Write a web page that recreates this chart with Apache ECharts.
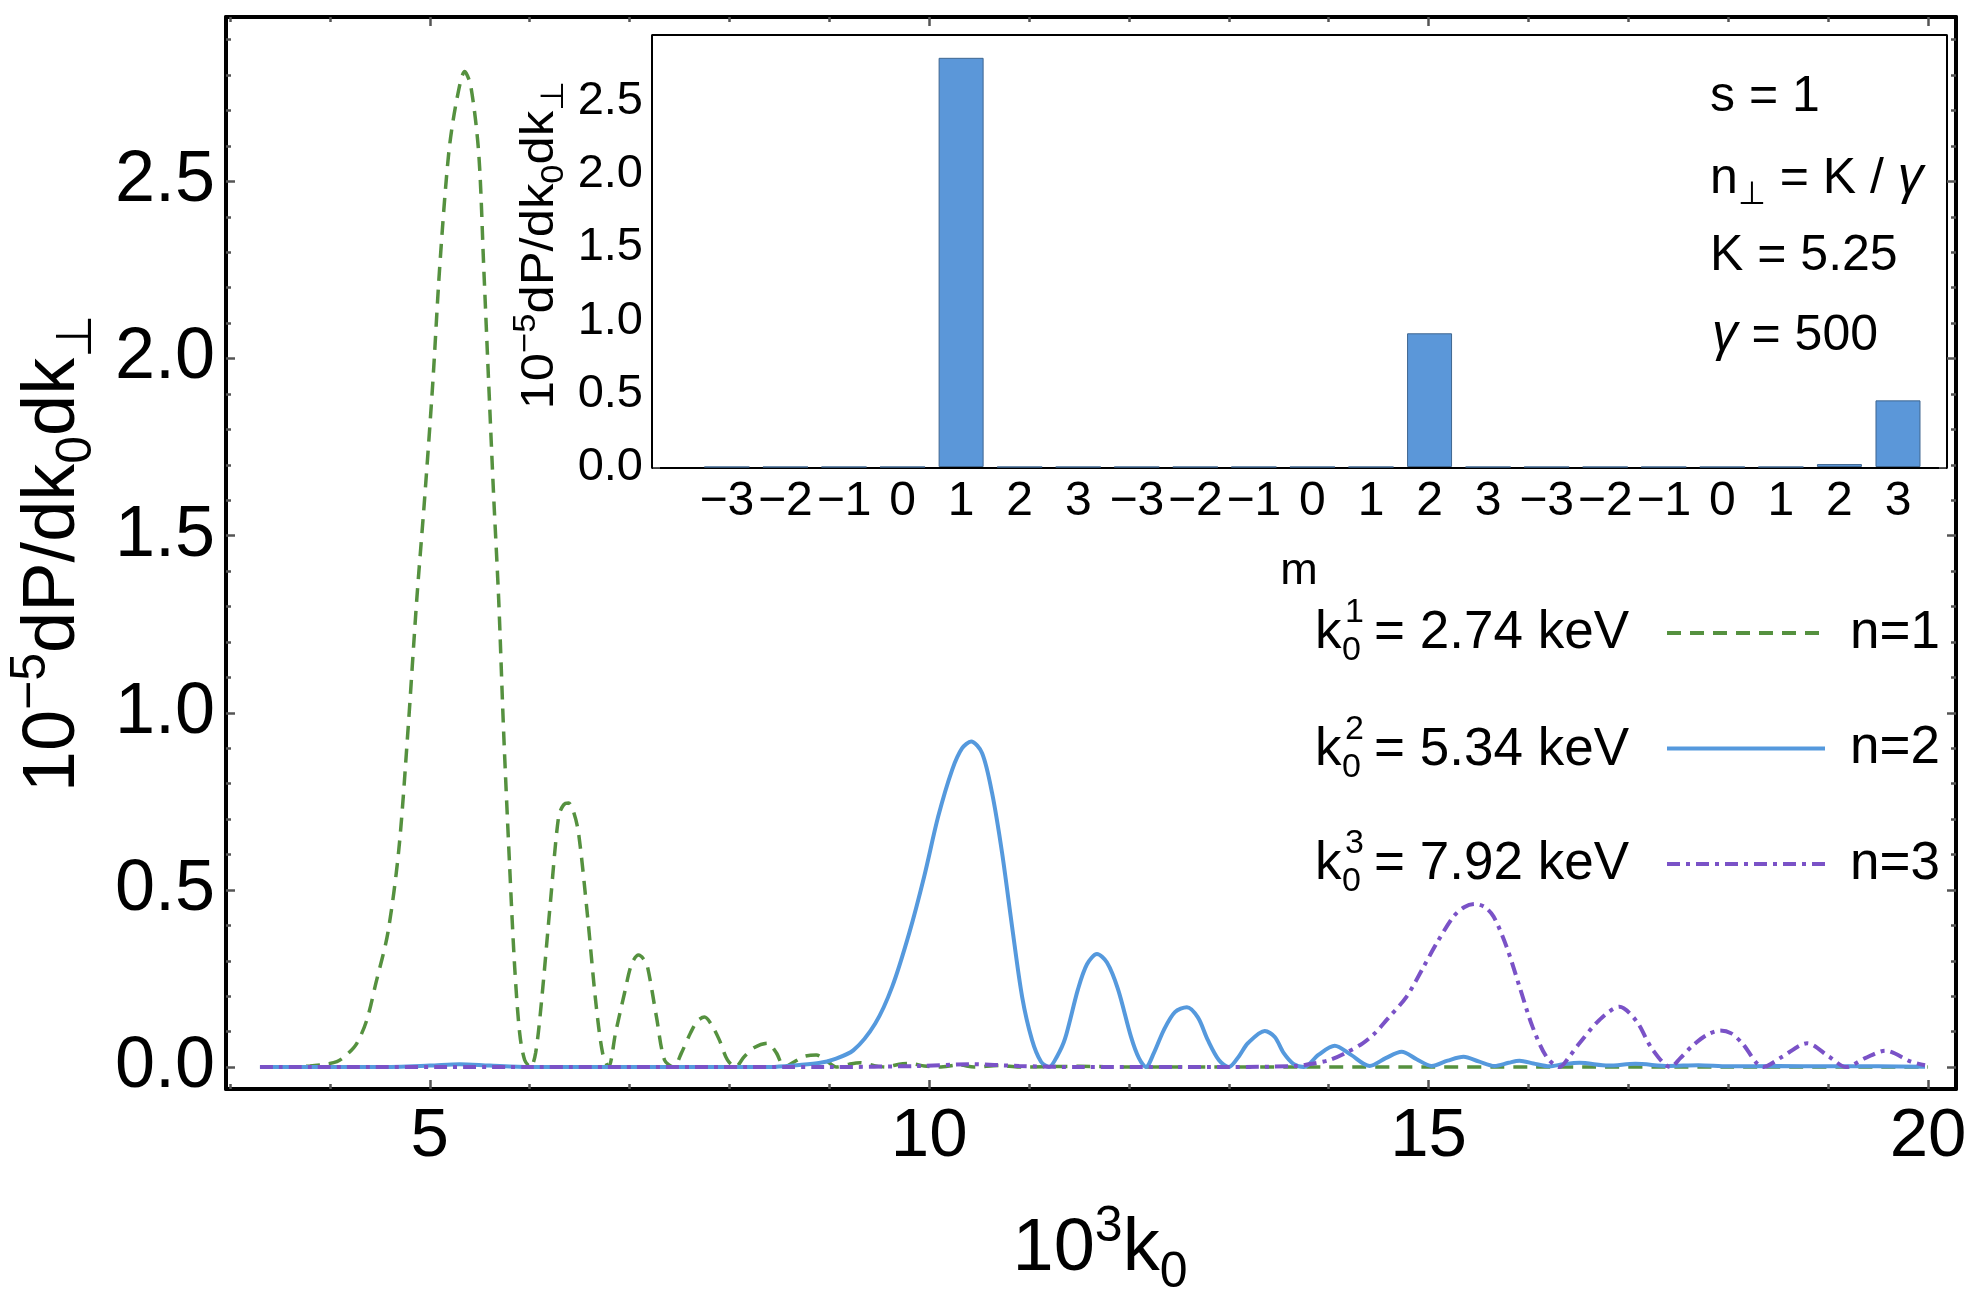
<!DOCTYPE html>
<html>
<head>
<meta charset="utf-8">
<title>dP/dk0dk⊥ vs 10^3 k0</title>
<script src="https://cdn.jsdelivr.net/npm/echarts@6/dist/echarts.min.js"></script>
<style>
  html, body { margin: 0; padding: 0; background: #fff; }
  #main { width: 1977px; height: 1294px; }
</style>
</head>
<body>
<div id="main"></div>
<script>
// n=1 (green, dashed): x = 10^3 k0, y = 10^-5 dP/dk0dk⊥
const n1X = [
  3.30, 3.60, 3.80, 3.95, 4.07, 4.17, 4.27, 4.37, 4.46, 4.58,
  4.69, 4.78, 4.87, 4.95, 5.03, 5.10, 5.19, 5.27, 5.35, 5.41,
  5.49, 5.54, 5.59, 5.64, 5.69, 5.74, 5.80, 5.85, 5.90, 5.95,
  6.01, 6.06, 6.12, 6.21, 6.29, 6.34, 6.39, 6.44, 6.49, 6.58,
  6.66, 6.73, 6.79, 6.86, 6.95, 7.02, 7.09, 7.14, 7.18, 7.27,
  7.35, 7.44, 7.52, 7.61, 7.68, 7.75, 7.82, 7.90, 7.98, 8.06,
  8.15, 8.25, 8.38, 8.47, 8.55, 8.65, 8.75, 8.87, 8.97, 9.07,
  9.20, 9.31, 9.45, 9.56, 9.70, 9.81, 9.95, 10.1, 10.3, 10.45,
  10.7, 10.9, 11.5, 12.0, 13.0, 14.0, 15.0, 16.0, 18.0, 20.0
];
const n1Y = [
  0, 0, 0.003, 0.008, 0.015, 0.035, 0.067, 0.133, 0.236, 0.378,
  0.613, 0.943, 1.32, 1.61, 1.93, 2.26, 2.58, 2.73, 2.81, 2.77,
  2.58, 2.26, 1.93, 1.61, 1.32, 0.943, 0.565, 0.283, 0.096, 0.02,
  0, 0.04, 0.189, 0.472, 0.707, 0.74, 0.745, 0.72, 0.66, 0.425,
  0.189, 0.04, 0, 0.096, 0.209, 0.29, 0.316, 0.305, 0.283, 0.141,
  0.02, 0, 0.04, 0.096, 0.13, 0.141, 0.12, 0.076, 0.02, 0,
  0.03, 0.055, 0.067, 0.04, 0, 0.015, 0.03, 0.034, 0.018, 0,
  0.008, 0.012, 0.004, 0, 0.008, 0.01, 0.003, 0, 0.006, 0,
  0.004, 0, 0.002, 0, 0, 0, 0, 0, 0, 0
];

// n=2 (blue, solid)
const n2X = [
  3.30, 4.50, 5.00, 5.30, 5.60, 6.00, 7.00, 8.00, 8.41, 8.70,
  8.91, 9.03, 9.24, 9.46, 9.63, 9.80, 9.95, 10.09, 10.23, 10.33,
  10.42, 10.53, 10.63, 10.73, 10.83, 10.93, 11.03, 11.12, 11.20, 11.28,
  11.36, 11.49, 11.58, 11.68, 11.78, 11.89, 12.02, 12.10, 12.17, 12.25,
  12.35, 12.46, 12.58, 12.69, 12.79, 12.90, 13.00, 13.10, 13.19, 13.36,
  13.46, 13.55, 13.65, 13.75, 13.90, 14.06, 14.22, 14.41, 14.57, 14.73,
  14.88, 15.03, 15.19, 15.35, 15.50, 15.66, 15.80, 15.91, 16.05, 16.21,
  16.35, 16.51, 16.80, 17.07, 17.40, 17.70, 18.00, 18.50, 19.00, 19.50,
  19.97
];
const n2Y = [
  0, 0, 0.004, 0.008, 0.004, 0, 0, 0, 0, 0.006,
  0.012, 0.02, 0.047, 0.123, 0.227, 0.378, 0.538, 0.707, 0.839, 0.9,
  0.919, 0.886, 0.773, 0.604, 0.396, 0.199, 0.076, 0.015, 0, 0.03,
  0.08, 0.22, 0.29, 0.319, 0.295, 0.22, 0.086, 0.025, 0, 0.04,
  0.105, 0.155, 0.169, 0.14, 0.076, 0.02, 0, 0.03, 0.067, 0.102,
  0.085, 0.039, 0.008, 0, 0.035, 0.06, 0.035, 0.003, 0.025, 0.043,
  0.022, 0.003, 0.018, 0.029, 0.016, 0.003, 0.012, 0.018, 0.01, 0.002,
  0.008, 0.012, 0.004, 0.009, 0.003, 0.005, 0.002, 0.003, 0.002, 0.002,
  0.001
];

// n=3 (purple, dot-dash)
const n3X = [
  3.30, 6.00, 9.00, 9.90, 10.40, 10.90, 11.50, 13.00, 13.68, 13.85,
  14.01, 14.17, 14.34, 14.46, 14.58, 14.78, 14.95, 15.08, 15.25, 15.36,
  15.46, 15.56, 15.65, 15.78, 15.91, 16.04, 16.18, 16.31, 16.41, 16.51,
  16.71, 16.91, 17.08, 17.24, 17.42, 17.52, 17.63, 17.78, 17.92, 18.03,
  18.14, 18.35, 18.54, 18.79, 19.01, 19.18, 19.37, 19.57, 19.83, 19.97
];
const n3Y = [
  0, 0, 0, 0.003, 0.008, 0.003, 0, 0, 0.003, 0.01,
  0.02, 0.04, 0.067, 0.095, 0.133, 0.199, 0.283, 0.349, 0.425, 0.452,
  0.46, 0.452, 0.425, 0.34, 0.227, 0.114, 0.029, 0, 0.03, 0.067,
  0.133, 0.17, 0.13, 0.05, 0, 0.025, 0.057, 0.09, 0.103, 0.095,
  0.067, 0, 0.029, 0.067, 0.029, 0, 0.025, 0.046, 0.015, 0.005
];

// inset bar chart: m = -3..3 for each harmonic n = 1, 2, 3
const mLabels = [
  '−3', '−2', '−1', '0', '1', '2', '3',
  '−3', '−2', '−1', '0', '1', '2', '3',
  '−3', '−2', '−1', '0', '1', '2', '3'
];
const barValues = [
  0, 0, 0, 0, 2.794, 0, 0,
  0, 0, 0, 0, 0, 0.913, 0,
  0, 0, 0, 0, 0, 0.02, 0.455
];

const seriesNames = ['n=1', 'n=2', 'n=3'];
const k0Energies = ['2.74', '5.34', '7.92'];
const mainXTicks = [5, 10, 15, 20];
const mainYTicks = [0, 0.5, 1, 1.5, 2, 2.5];
const insetYTicks = [0, 0.5, 1, 1.5, 2, 2.5];
const insetGroupTicks = [6.5, 13.5];

const FONT = 'Liberation Sans, Arial, sans-serif';
const TICK_COLOR = '#555';
const GREEN = '#55913f';
const BLUE = '#5599dd';
const PURPLE = '#7a52c7';

function zip(xs, ys) {
  return xs.map((x, i) => [x, ys[i]]);
}

// minor tick positions between the labelled ones
function minorTicks(from, to, step, majors) {
  const out = [];
  for (let v = from; v <= to + 1e-9; v += step) {
    const r = Math.round(v * 100) / 100;
    if (!majors.some(m => Math.abs(m - r) < 1e-6)) out.push(r);
  }
  return out;
}

function frameAxis(o) {
  return {
    type: 'value',
    gridIndex: o.grid,
    position: o.pos,
    min: o.min,
    max: o.max,
    axisLine: { show: !!o.line, onZero: false, lineStyle: { color: '#000', width: 4 } },
    axisTick: {
      show: true, inside: true, length: o.len, customValues: o.ticks,
      lineStyle: { color: TICK_COLOR, width: 2.5 }
    },
    axisLabel: o.labels
      ? Object.assign({ show: true, customValues: o.ticks, color: '#000', fontFamily: FONT }, o.labels)
      : { show: false },
    splitLine: { show: false }
  };
}

const X_MIN = 2.96, X_MAX = 20.28;
const Y_MIN = -0.062, Y_MAX = 2.964;
const IX_MIN = -1.262, IX_MAX = 20.82;
const IY_MIN = 0, IY_MAX = 2.943;

const barIdx = mLabels.map((_, i) => i);
const mainXMinor = minorTicks(3, 19, 1, mainXTicks);
const mainYMinor = minorTicks(0.1, 2.9, 0.1, mainYTicks);
const insetYMinor = minorTicks(0.1, 2.9, 0.1, insetYTicks);

const xAxis = [
  frameAxis({ grid: 0, pos: 'bottom', min: X_MIN, max: X_MAX, ticks: mainXTicks, len: 9, line: true,
    labels: { fontSize: 69, margin: 13, formatter: v => String(v) } }),
  frameAxis({ grid: 0, pos: 'bottom', min: X_MIN, max: X_MAX, ticks: mainXMinor, len: 5 }),
  frameAxis({ grid: 0, pos: 'top', min: X_MIN, max: X_MAX, ticks: mainXTicks, len: 9, line: true }),
  frameAxis({ grid: 0, pos: 'top', min: X_MIN, max: X_MAX, ticks: mainXMinor, len: 5 }),
  // inset
  frameAxis({ grid: 1, pos: 'bottom', min: IX_MIN, max: IX_MAX, ticks: barIdx, len: 6, line: true,
    labels: { fontSize: 48, margin: 11, formatter: v => mLabels[Math.round(v)] } }),
  frameAxis({ grid: 1, pos: 'top', min: IX_MIN, max: IX_MAX, ticks: barIdx, len: 6, line: true }),
  frameAxis({ grid: 1, pos: 'bottom', min: IX_MIN, max: IX_MAX, ticks: insetGroupTicks, len: 12 }),
  frameAxis({ grid: 1, pos: 'top', min: IX_MIN, max: IX_MAX, ticks: insetGroupTicks, len: 12 })
];

const yAxis = [
  frameAxis({ grid: 0, pos: 'left', min: Y_MIN, max: Y_MAX, ticks: mainYTicks, len: 9, line: true,
    labels: { fontSize: 72, margin: 11, formatter: v => v.toFixed(1) } }),
  frameAxis({ grid: 0, pos: 'left', min: Y_MIN, max: Y_MAX, ticks: mainYMinor, len: 5 }),
  frameAxis({ grid: 0, pos: 'right', min: Y_MIN, max: Y_MAX, ticks: mainYTicks, len: 9, line: true }),
  frameAxis({ grid: 0, pos: 'right', min: Y_MIN, max: Y_MAX, ticks: mainYMinor, len: 5 }),
  // inset
  frameAxis({ grid: 1, pos: 'left', min: IY_MIN, max: IY_MAX, ticks: insetYTicks, len: 7, line: true,
    labels: { fontSize: 47, margin: 10, formatter: v => v.toFixed(1) } }),
  frameAxis({ grid: 1, pos: 'left', min: IY_MIN, max: IY_MAX, ticks: insetYMinor, len: 4 }),
  frameAxis({ grid: 1, pos: 'right', min: IY_MIN, max: IY_MAX, ticks: insetYTicks, len: 7, line: true }),
  frameAxis({ grid: 1, pos: 'right', min: IY_MIN, max: IY_MAX, ticks: insetYMinor, len: 4 })
];

// text helper for titles / annotations
function txt(x, y, text, size, align, extra) {
  return Object.assign({
    type: 'text', x: x, y: y, z: 100,
    style: {
      text: text, fontSize: size, fontFamily: FONT, fill: '#000',
      textAlign: align || 'left', textVerticalAlign: 'middle'
    }
  }, extra || {});
}

function supSub(size) {
  return {
    sup: { fontSize: size, fontFamily: FONT, fill: '#000', verticalAlign: 'top' },
    sub: { fontSize: size, fontFamily: FONT, fill: '#000', verticalAlign: 'bottom' },
    g: { fontSize: size * 1.6, fontFamily: FONT, fill: '#000', fontStyle: 'italic' }
  };
}

const yTitleText = '10{sup|−5}dP/dk{sub|0}dk{sub|⊥}';

const graphic = [];
// main axis titles
const xTitle = txt(1100, 1250, '10{sup|3}k{sub|0}', 74, 'center');
xTitle.style.lineHeight = 96;
xTitle.style.rich = supSub(50);
graphic.push(xTitle);

const yTitle = txt(54, 553, yTitleText, 74, 'center', { rotation: Math.PI / 2 });
yTitle.style.lineHeight = 96;
yTitle.style.rich = supSub(50);
graphic.push(yTitle);

// inset y title and m label
const iyTitle = txt(540, 245, yTitleText, 47, 'center', { rotation: Math.PI / 2, scaleX: 1.08 });
iyTitle.style.lineHeight = 60;
iyTitle.style.rich = supSub(32);
graphic.push(iyTitle);
graphic.push(txt(1299, 572, 'm', 45, 'center'));

// inset annotations
graphic.push(txt(1710, 97, 's = 1', 50));
const nPerp = txt(1710, 179, 'n{sub|⊥} = K / {g|γ}', 50);
nPerp.style.lineHeight = 64;
nPerp.style.rich = supSub(32);
graphic.push(nPerp);
graphic.push(txt(1710, 256, 'K = 5.25', 50));
const gam = txt(1712, 336, '{g|γ} = 500', 50);
gam.style.rich = supSub(32);
graphic.push(gam);

// legend left-hand labels: k0^n = ... keV
const legendRowY = [633, 750, 864];
legendRowY.forEach((y, i) => {
  graphic.push(txt(1315, y, 'k', 53));
  graphic.push(txt(1345, y - 20, String(i + 1), 34));
  graphic.push(txt(1342, y + 18, '0', 34));
  graphic.push(txt(1629, y, '= ' + k0Energies[i] + ' keV', 53, 'right'));
});

const lineBase = {
  type: 'line', xAxisIndex: 0, yAxisIndex: 0,
  symbol: 'none', showSymbol: false, smooth: 0.3, clip: true, z: 3
};

const option = {
  animation: false,
  backgroundColor: '#fff',
  textStyle: { fontFamily: FONT },
  grid: [
    { left: 226, right: 21, top: 17, bottom: 205, show: false },
    { left: 653, right: 31, top: 36, bottom: 827, show: true, backgroundColor: '#fff', borderWidth: 0, z: 5 }
  ],
  xAxis: xAxis,
  yAxis: yAxis,
  legend: {
    orient: 'vertical',
    left: 1665,
    top: 603,
    padding: 0,
    itemWidth: 158,
    itemHeight: 16,
    itemGap: 55.5,
    selectedMode: false,
    data: seriesNames,
    itemStyle: { opacity: 0 },
    lineStyle: { width: 4 },
    textStyle: { fontSize: 53, fontFamily: FONT, color: '#000', lineHeight: 60, padding: [0, 0, 0, 20] }
  },
  graphic: graphic,
  series: [
    Object.assign({}, lineBase, {
      name: seriesNames[0],
      data: zip(n1X, n1Y),
      lineStyle: { color: GREEN, width: 3.5, type: [14, 9] },
      itemStyle: { color: GREEN }
    }),
    Object.assign({}, lineBase, {
      name: seriesNames[1],
      data: zip(n2X, n2Y),
      lineStyle: { color: BLUE, width: 4, type: 'solid' },
      itemStyle: { color: BLUE }
    }),
    Object.assign({}, lineBase, {
      name: seriesNames[2],
      data: zip(n3X, n3Y),
      lineStyle: { color: PURPLE, width: 4, type: [13, 6, 4, 6] },
      itemStyle: { color: PURPLE }
    }),
    {
      type: 'bar',
      name: 'inset',
      xAxisIndex: 4,
      yAxisIndex: 4,
      barWidth: 45,
      data: zip(barIdx, barValues),
      itemStyle: { color: '#5b97d9', borderColor: '#3f6690', borderWidth: 1 },
      z: 6
    }
  ]
};

const chart = echarts.init(document.getElementById('main'));
chart.setOption(option);
</script>
</body>
</html>
